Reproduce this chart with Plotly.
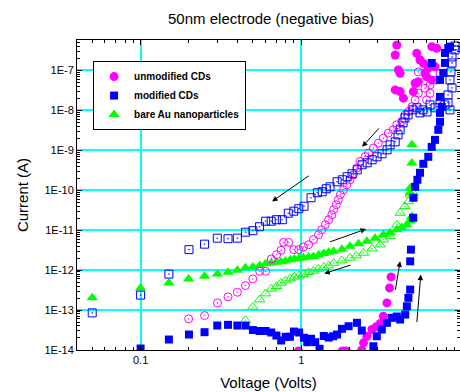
import numpy as np
import plotly.graph_objects as go

# ---------------- data (Voltage in V, Current in A) ----------------
# unmodified CDs - forward sweep (filled circles)
unmod_fwd_v = [0.96, 1.80, 1.90, 2.38, 2.44, 2.56, 2.75, 2.92, 3.10, 3.24, 3.41, 3.54, 3.62,
               3.93, 3.84, 4.02, 4.12, 3.84, 4.12, 4.32, 4.98, 5.23, 5.48, 5.11, 5.35,
               5.75, 5.89, 6.02, 6.48, 6.79, 6.96, 6.48, 6.17]
unmod_fwd_i = [9.5e-15, 9.5e-15, 9.5e-15, 1.0e-14, 1.51e-14, 2.21e-14, 3.26e-14, 3.80e-14, 4.60e-14,
               7.0e-14, 1.51e-13, 3.59e-13, 6.76e-13,
               4.34e-7, 2.44e-7, 1.03e-7, 8.51e-8, 3.26e-8, 2.95e-8, 2.02e-8, 2.95e-8, 2.69e-7,
               1.83e-7, 4.79e-8, 5.25e-8, 1.51e-7, 8.51e-8, 7.0e-8, 5.79e-8, 1.24e-7, 3.59e-7,
               3.94e-7, 1.14e-7]

# unmodified CDs - reverse sweep (open circles)
unmod_rev_v = [5.35, 5.23, 6.33, 5.89, 6.96, 7.30, 6.33, 6.02, 5.35, 5.11,
               4.88, 4.65, 4.42, 4.22, 3.93, 3.74, 3.48, 3.24, 3.02, 2.81,
               2.62, 2.50, 2.32, 2.22, 2.11, 2.01, 1.92, 1.83, 1.75, 1.70,
               1.65, 1.59, 1.55, 1.48, 1.41, 1.34, 1.28, 1.19, 1.11, 1.03,
               0.965, 0.898, 0.834, 0.776, 0.748, 0.702, 0.651, 0.600, 0.551, 0.499,
               0.449, 0.400, 0.350, 0.301, 0.250, 0.199]
unmod_rev_i = [9.17e-8, 4.79e-8, 4.34e-8, 3.59e-8, 5.79e-8, 8.51e-8, 2.69e-8, 1.83e-8, 2.69e-8, 1.83e-8,
               1.24e-8, 9.33e-9, 7.72e-9, 5.25e-9, 4.34e-9, 3.26e-9, 2.69e-9, 2.02e-9, 1.51e-9, 1.14e-9,
               8.51e-10, 7.0e-10, 5.25e-10, 3.59e-10, 2.44e-10, 1.83e-10, 1.37e-10, 1.03e-10, 7.72e-11, 5.79e-11,
               4.34e-11, 3.26e-11, 2.44e-11, 1.83e-11, 1.37e-11, 1.03e-11, 7.72e-12, 5.79e-12, 4.34e-12, 3.80e-12,
               3.26e-12, 3.26e-12, 4.95e-12, 4.95e-12, 3.13e-12, 2.44e-12, 1.91e-12, 9.33e-13, 9.33e-13, 6.03e-13,
               4.10e-13, 2.79e-13, 2.14e-13, 1.51e-13, 7.29e-14, 6.03e-14]

# modified CDs - forward sweep (filled squares)
mod_fwd_v = [0.10, 0.15, 0.20, 0.25, 0.30, 0.35, 0.40, 0.45, 0.50, 0.55, 0.60, 0.65, 0.70, 0.75, 0.80, 0.85, 0.90,
             0.97, 1.04, 1.09, 1.15, 1.22, 1.30, 1.38, 1.48, 1.58, 1.67,
             1.79, 1.97, 2.22, 2.38, 2.81, 2.95, 3.17, 3.41, 3.66, 3.93,
             4.12, 4.43, 4.54, 4.64, 4.76, 4.76, 4.81, 4.97, 4.99, 5.11,
             5.28, 5.48, 5.75, 6.17, 6.48, 6.79, 7.12, 7.30, 7.30, 7.48,
             7.30, 7.30, 7.65, 7.84, 7.84, 8.22, 8.42, 6.48]
mod_fwd_i = [1.09e-14, 1.83e-14, 2.44e-14, 2.79e-14, 4.10e-14, 4.27e-14, 4.10e-14, 4.10e-14, 3.16e-14,
             2.99e-14, 2.99e-14, 2.74e-14, 2.30e-14, 1.73e-14, 2.14e-14, 2.14e-14, 2.90e-14,
             2.74e-14, 2.02e-14, 1.57e-14, 1.91e-14, 1.57e-14, 1.07e-14, 2.24e-14, 2.05e-14, 2.21e-14, 2.44e-14,
             3.39e-14, 3.94e-14, 4.79e-14, 3.07e-14, 1.24e-14, 2.21e-14, 3.26e-14, 4.79e-14, 6.38e-14, 6.88e-14,
             5.79e-14, 7.72e-14, 1.24e-13, 2.02e-13, 3.26e-13, 1.66e-12, 3.26e-12, 2.05e-11, 6.49e-11, 1.22e-10,
             1.83e-10, 2.74e-10, 4.60e-10, 6.88e-10, 1.22e-9, 1.83e-9, 3.26e-9, 5.16e-9, 8.66e-9, 1.22e-8,
             2.18e-8, 5.79e-8, 8.66e-8, 1.54e-7, 2.74e-7, 3.65e-7, 3.94e-7, 1.54e-7]

# modified CDs - reverse sweep (open squares)
mod_rev_v = [9.05, 9.05, 8.67, 8.67, 8.54, 8.42, 8.67, 8.19, 8.42, 8.19,
             7.84, 7.30, 6.80, 6.33, 6.06, 5.72, 5.48, 5.25, 4.96, 4.62,
             4.42, 4.30, 4.12, 4.00, 3.84, 3.57, 3.42, 3.18, 2.96, 2.76,
             2.57, 2.39, 2.23, 2.07, 1.93, 1.80, 1.67, 1.51, 1.43, 1.35,
             1.26, 1.15, 1.04, 0.965, 0.898, 0.830, 0.762, 0.70, 0.65, 0.60,
             0.55, 0.50, 0.45, 0.40, 0.35, 0.30, 0.25, 0.20, 0.15, 0.10, 0.05]
mod_rev_i = [4.10e-7, 3.26e-7, 2.18e-7, 1.54e-7, 9.17e-8, 5.79e-8, 3.65e-8, 2.44e-8, 1.03e-8, 1.54e-8,
             1.37e-8, 1.54e-8, 1.16e-8, 1.37e-8, 9.17e-9, 1.03e-8, 8.66e-9, 1.16e-8, 1.03e-8, 7.72e-9,
             6.49e-9, 4.87e-9, 3.26e-9, 2.44e-9, 1.63e-9, 1.37e-9, 1.03e-9, 8.18e-10, 6.88e-10, 5.79e-10,
             4.87e-10, 4.34e-10, 3.26e-10, 2.59e-10, 2.18e-10, 1.83e-10, 1.63e-10, 1.22e-10, 1.09e-10, 9.17e-11,
             8.66e-11, 6.49e-11, 3.98e-11, 3.45e-11, 2.99e-11, 2.66e-11, 1.83e-11, 1.83e-11, 1.68e-11, 1.68e-11,
             1.22e-11, 9.72e-12, 8.91e-12, 6.31e-12, 6.13e-12, 6.31e-12, 4.47e-12, 3.26e-12, 7.94e-13, 2.37e-13,
             8.51e-14]

# bare Au nanoparticles - forward sweep (filled triangles)
bare_fwd_v = [0.050, 0.100, 0.150, 0.199, 0.250, 0.301, 0.350, 0.400, 0.449, 0.499, 0.551, 0.600,
              0.651, 0.702, 0.748, 0.796, 0.854, 0.905,
              0.968, 1.03, 1.11, 1.19, 1.28, 1.38, 1.48, 1.59, 1.79, 2.01,
              2.27, 2.56, 2.88, 3.24, 3.57, 3.93, 4.22, 4.53, 4.76, 4.88,
              4.76, 4.76, 4.88, 4.88]
bare_fwd_i = [2.02e-13, 3.59e-13, 4.79e-13, 6.03e-13, 7.0e-13, 8.04e-13, 8.81e-13, 9.89e-13,
              1.14e-12, 1.20e-12, 1.30e-12, 1.45e-12, 1.51e-12, 1.57e-12, 1.63e-12, 1.70e-12, 1.83e-12, 1.91e-12,
              1.97e-12, 2.05e-12, 2.14e-12, 2.21e-12, 2.40e-12, 2.59e-12, 2.79e-12, 2.95e-12, 3.35e-12, 3.94e-12,
              4.60e-12, 5.25e-12, 6.31e-12, 7.72e-12, 8.66e-12, 1.03e-11, 1.16e-11, 1.37e-11, 1.73e-11, 2.21e-11,
              8.7e-11, 1.14e-10, 4.79e-10, 1.37e-9]

# bare Au nanoparticles - reverse sweep (open triangles)
bare_rev_v = [4.97, 4.76, 4.65, 4.42, 4.12, 3.93, 3.57, 3.24, 3.10, 2.76,
              2.44, 2.20, 2.01, 1.79, 1.59, 1.48, 1.38, 1.28, 1.19, 1.11,
              1.03, 0.968, 0.905, 0.854, 0.796, 0.748, 0.702, 0.651, 0.600, 0.551,
              0.499, 0.449]
bare_rev_i = [8.66e-11, 7.72e-11, 5.25e-11, 3.94e-11, 2.69e-11, 1.37e-11, 7.0e-12, 5.79e-12, 4.34e-12, 3.45e-12,
              2.69e-12, 2.30e-12, 2.02e-12, 1.73e-12, 1.51e-12, 1.30e-12, 1.20e-12, 1.07e-12, 9.55e-13, 8.81e-13,
              7.85e-13, 7.29e-13, 6.76e-13, 6.13e-13, 5.46e-13, 4.79e-13, 3.94e-13, 3.39e-13, 2.59e-13, 1.83e-13,
              1.20e-13, 5.56e-14]

# sweep-direction arrows (tail -> head)
arrow_tail_v = [3.10, 1.137, 1.478, 2.065, 3.84, 5.23]
arrow_tail_i = [3.87e-9, 2.44e-10, 4.95e-12, 1.37e-12, 2.95e-13, 4.60e-14]
arrow_head_v = [2.39, 0.658, 2.53, 1.39, 4.12, 5.54]
arrow_head_i = [1.22e-9, 5.25e-11, 1.07e-11, 8.18e-13, 1.66e-12, 7.72e-13]

# axis ticks
x_tick_vals = [0.1, 1, 10]
x_tick_text = ["0.1", "1", "10"]
y_tick_vals = [1e-14, 1e-13, 1e-12, 1e-11, 1e-10, 1e-9, 1e-8, 1e-7]
y_tick_text = ["1E-14", "1E-13", "1E-12", "1E-11", "1E-10", "1E-9", "1E-8", "1E-7"]

# ---------------- figure ----------------
MAG = "#FF00FF"
BLU = "#0000FF"
GRN = "#00FF00"
FONT = "Liberation Sans, Arial, sans-serif"

fig = go.Figure()

fig.add_trace(go.Scatter(x=bare_rev_v, y=bare_rev_i, mode="markers", showlegend=False,
                         legendgroup="bare",
                         marker=dict(symbol="triangle-up-open-dot", size=9, color=GRN,
                                     line=dict(width=1, color=GRN))))
fig.add_trace(go.Scatter(x=bare_fwd_v, y=bare_fwd_i, mode="markers", name="bare Au nanoparticles",
                         legendgroup="bare", legendrank=3,
                         marker=dict(symbol="triangle-up", size=10, color=GRN)))
fig.add_trace(go.Scatter(x=unmod_rev_v, y=unmod_rev_i, mode="markers", showlegend=False,
                         legendgroup="unmod",
                         marker=dict(symbol="circle-open-dot", size=8, color=MAG,
                                     line=dict(width=1, color=MAG))))
fig.add_trace(go.Scatter(x=mod_rev_v, y=mod_rev_i, mode="markers", showlegend=False,
                         legendgroup="mod",
                         marker=dict(symbol="square-open-dot", size=8, color=BLU,
                                     line=dict(width=1, color=BLU))))
fig.add_trace(go.Scatter(x=unmod_fwd_v, y=unmod_fwd_i, mode="markers", name="unmodified CDs",
                         legendgroup="unmod", legendrank=1,
                         marker=dict(symbol="circle", size=9, color=MAG)))
fig.add_trace(go.Scatter(x=mod_fwd_v, y=mod_fwd_i, mode="markers", name="modified CDs",
                         legendgroup="mod", legendrank=2,
                         marker=dict(symbol="square", size=8, color=BLU)))

for tv, ti, hv, hi in zip(arrow_tail_v, arrow_tail_i, arrow_head_v, arrow_head_i):
    fig.add_annotation(x=np.log10(hv), y=np.log10(hi), xref="x", yref="y",
                       ax=np.log10(tv), ay=np.log10(ti), axref="x", ayref="y",
                       showarrow=True, arrowhead=2, arrowsize=1.1, arrowwidth=1,
                       arrowcolor="black", text="")

x_minor = [k * 10.0 ** e for e in (-2, -1, 0) for k in range(2, 10)]
y_minor = [k * 10.0 ** e for e in range(-15, -6) for k in range(2, 10)]

axis_common = dict(
    type="log", showline=True, linecolor="black", linewidth=1, mirror="allticks",
    ticks="inside", ticklen=5, tickwidth=1, tickcolor="black",
    showgrid=True, gridcolor="#00FFFF", gridwidth=1.5, zeroline=False,
    tickfont=dict(family=FONT, size=11, color="black"),
)

fig.update_xaxes(**axis_common,
                 range=[np.log10(0.0402), np.log10(9.72)],
                 tickmode="array", tickvals=x_tick_vals, ticktext=x_tick_text,
                 minor=dict(tickmode="array", tickvals=x_minor, ticks="inside", ticklen=3,
                            tickcolor="black", showgrid=False),
                 title=dict(text="Voltage (Volts)", font=dict(family=FONT, size=15, color="black"),
                            standoff=12))
fig.update_yaxes(**axis_common,
                 range=[-14.0, -6.2375],
                 tickmode="array", tickvals=y_tick_vals, ticktext=y_tick_text,
                 minor=dict(tickmode="array", tickvals=y_minor, ticks="inside", ticklen=3,
                            tickcolor="black", showgrid=False),
                 title=dict(text="Current (A)", font=dict(family=FONT, size=15, color="black"),
                            standoff=12))

fig.update_layout(
    width=460, height=392,
    margin=dict(l=77, r=0, t=40, b=41.5),
    paper_bgcolor="white", plot_bgcolor="white",
    title=dict(text="50nm electrode (negative bias)", x=271 / 460, xanchor="center",
               y=1 - 19 / 392, yanchor="middle",
               font=dict(family=FONT, size=15, color="black")),
    legend=dict(x=0.042, y=0.932, xanchor="left", yanchor="top",
                bgcolor="white", bordercolor="black", borderwidth=1,
                font=dict(family=FONT, size=10, color="black", weight="bold"),
                tracegroupgap=0, traceorder="normal"),
    showlegend=True,
)

fig.write_html("out.html", config={"displayModeBar": False},
               post_script="document.body.style.margin='0';document.body.style.overflow='hidden';")
